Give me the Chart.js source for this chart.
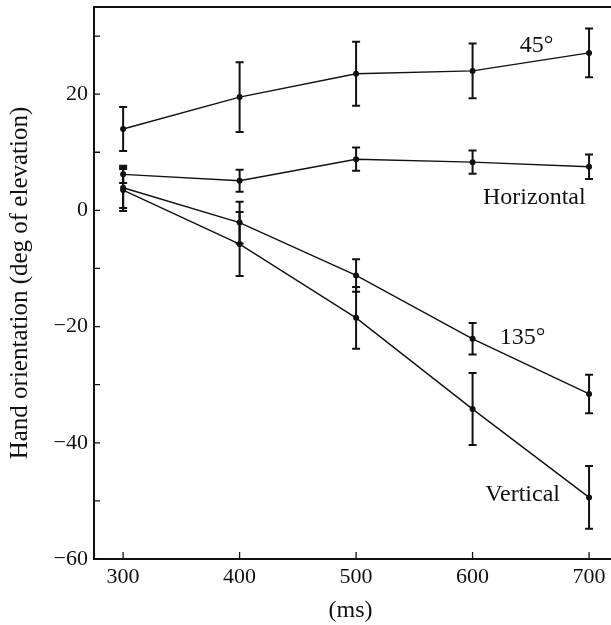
<!DOCTYPE html>
<html>
<head>
<meta charset="utf-8">
<script src="https://cdn.jsdelivr.net/npm/chart.js@4.4.1/dist/chart.umd.min.js"></script>
<style>
  body { margin: 0; background: #fff; }
  canvas { display: block; }
</style>
</head>
<body>
<canvas id="chart" width="611" height="625"></canvas>
<script>
// data (ms after movement onset, deg of elevation)
const times = [300, 400, 500, 600, 700];

const deg45 = [14.0, 19.5, 23.5, 24.0, 27.1];
const err45 = [3.8, 6.0, 5.5, 4.7, 4.2];

const horizontal = [6.2, 5.1, 8.8, 8.3, 7.5];
const errHorizontal = [1.5, 1.9, 2.0, 2.0, 2.1];

const deg135 = [3.9, -2.1, -11.2, -22.1, -31.6];
const err135 = [3.5, 3.6, 2.8, 2.7, 3.3];

const vertical = [3.5, -5.8, -18.5, -34.2, -49.4];
const errVertical = [3.6, 5.5, 5.3, 6.2, 5.4];

const xTicks = [300, 400, 500, 600, 700];
const yTicks = [-60, -50, -40, -30, -20, -10, 0, 10, 20, 30];
const yTickLabels = [-60, -40, -20, 0, 20];

const ink = '#111';
const serif = 'Liberation Serif';

function makeSet(name, values, errors) {
  return {
    label: name,
    data: times.map((t, i) => ({ x: t, y: values[i] })),
    errors: errors,
    borderColor: ink,
    backgroundColor: ink,
    borderWidth: 1.4,
    pointRadius: 3,
    pointBorderWidth: 0,
    tension: 0
  };
}

function noPad(s) {
  s.paddingLeft = 0; s.paddingRight = 0; s.paddingTop = 0; s.paddingBottom = 0;
}

// error bars, frame top, inward ticks and the curve names
const extras = {
  id: 'extras',
  beforeDatasetsDraw(chart) {
    const c = chart.ctx;
    const xs = chart.scales.x, ys = chart.scales.y;
    c.save();
    c.strokeStyle = ink;
    c.lineWidth = 2;
    chart.data.datasets.forEach(ds => {
      ds.data.forEach((p, i) => {
        const px = xs.getPixelForValue(p.x);
        const top = ys.getPixelForValue(p.y + ds.errors[i]);
        const bot = ys.getPixelForValue(p.y - ds.errors[i]);
        c.beginPath();
        c.moveTo(px, top); c.lineTo(px, bot);
        c.moveTo(px - 4, top); c.lineTo(px + 4, top);
        c.moveTo(px - 4, bot); c.lineTo(px + 4, bot);
        c.stroke();
      });
    });
    c.restore();
  },
  afterDraw(chart) {
    const c = chart.ctx;
    const a = chart.chartArea;
    const xs = chart.scales.x, ys = chart.scales.y;
    c.save();
    c.strokeStyle = ink;
    c.lineWidth = 2;
    // frame runs off the right edge in the original scan
    c.beginPath();
    c.moveTo(a.left, a.top); c.lineTo(chart.width, a.top);
    c.moveTo(a.left, a.bottom); c.lineTo(chart.width, a.bottom);
    c.stroke();
    c.lineWidth = 1.3;
    c.beginPath();
    xTicks.forEach(v => {
      const px = xs.getPixelForValue(v);
      c.moveTo(px, a.bottom); c.lineTo(px, a.bottom - 7);
    });
    yTicks.forEach(v => {
      const py = ys.getPixelForValue(v);
      c.moveTo(a.left, py); c.lineTo(a.left + 6, py);
    });
    c.stroke();

    c.fillStyle = ink;
    c.font = '24px "' + serif + '"';
    c.textAlign = 'center';
    c.textBaseline = 'middle';
    [['45°', 655, 28.4], ['Horizontal', 653, 2.2], ['135°', 643, -22], ['Vertical', 643, -48.9]]
      .forEach(([t, x, y]) => c.fillText(t, xs.getPixelForValue(x), ys.getPixelForValue(y)));
    c.restore();
  }
};

new Chart(document.getElementById('chart'), {
  type: 'line',
  data: {
    datasets: [
      makeSet('45°', deg45, err45),
      makeSet('Horizontal', horizontal, errHorizontal),
      makeSet('135°', deg135, err135),
      makeSet('Vertical', vertical, errVertical)
    ]
  },
  options: {
    responsive: false,
    animation: false,
    layout: { padding: { top: 7, right: 0, bottom: 0, left: 0 } },
    plugins: { legend: { display: false }, tooltip: { enabled: false } },
    scales: {
      x: {
        type: 'linear',
        min: 275,
        max: 715.4,
        afterBuildTicks: s => { s.ticks = xTicks.map(v => ({ value: v })); },
        afterFit: s => { s.height = 66; noPad(s); },
        grid: { display: false, drawTicks: false },
        border: { color: ink, width: 2 },
        ticks: { color: ink, padding: 5, font: { family: serif, size: 22 } },
        title: { display: true, text: '(ms)', color: ink, padding: { top: 0, bottom: 0 }, font: { family: serif, size: 24 } }
      },
      y: {
        min: -60,
        max: 35,
        afterBuildTicks: s => { s.ticks = yTicks.map(v => ({ value: v })); },
        afterFit: s => { s.width = 94; noPad(s); },
        grid: { display: false, drawTicks: false },
        border: { color: ink, width: 2 },
        ticks: {
          color: ink,
          padding: 6,
          font: { family: serif, size: 22 },
          callback: v => yTickLabels.includes(v) ? (v < 0 ? '\u2212' + Math.abs(v) : String(v)) : ''
        },
        title: { display: true, text: 'Hand orientation (deg of elevation)', color: ink, padding: { top: 5, bottom: 0 }, font: { family: serif, size: 25 } }
      }
    }
  },
  plugins: [extras]
});
</script>
</body>
</html>
